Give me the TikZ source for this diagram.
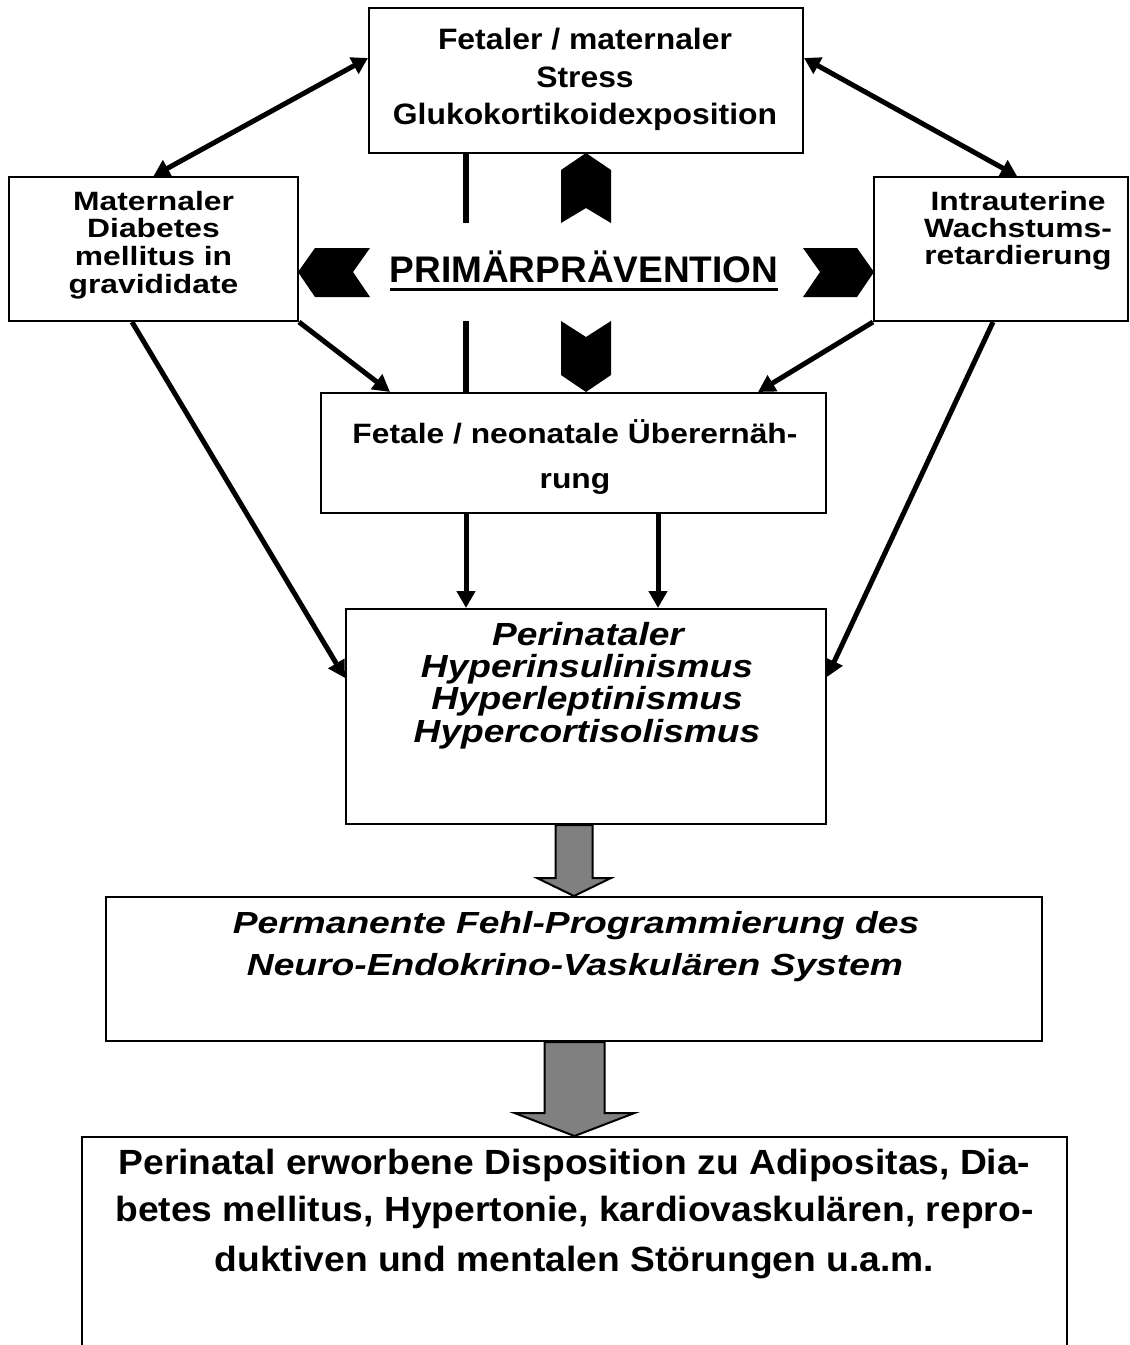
\documentclass[tikz,border=0pt]{standalone}
\usepackage{fontspec}
\setmainfont{Liberation Sans}
\newfontfamily\fTop[FakeStretch=1.08]{Liberation Sans}
\newfontfamily\fSide[FakeStretch=1.2]{Liberation Sans}
\newfontfamily\fMid[FakeStretch=1.135]{Liberation Sans}
\newfontfamily\fPer[FakeStretch=1.16]{Liberation Sans}
\newfontfamily\fPerm[FakeStretch=1.22]{Liberation Sans}
\newfontfamily\fBot[FakeStretch=1.063]{Liberation Sans}
\usetikzlibrary{arrows.meta,calc}
\definecolor{arrowgray}{RGB}{128,128,128}
\begin{document}
\begin{tikzpicture}[x=1pt,y=-1pt,
  box/.style={draw,line width=2pt,inner sep=0pt},
  txt/.style={inner sep=0pt,anchor=base},
  conn/.style={line width=5pt,-{Triangle[length=17pt,width=18pt]}},
  dbl/.style={line width=5pt,{Triangle[length=16pt,width=18pt]}-{Triangle[length=16pt,width=18pt]}},
  plainline/.style={line width=5.5pt},
  chev/.style={fill=black},
  garrow/.style={fill=arrowgray,draw=black,line width=2pt,line join=miter},
  ftop/.style={font=\fTop\bfseries\fontsize{29.5}{35}\selectfont},
  fside/.style={font=\fSide\bfseries\fontsize{26.5}{30}\selectfont},
  fmid/.style={font=\fMid\bfseries\fontsize{28}{33}\selectfont},
  fper/.style={font=\fPer\bfseries\itshape\fontsize{32}{36}\selectfont},
  fperm/.style={font=\fPerm\bfseries\itshape\fontsize{30.5}{36}\selectfont},
  fbot/.style={font=\fBot\bfseries\fontsize{35}{42}\selectfont},
]
\useasboundingbox (0,0) rectangle (1130,1345);
\clip (0,0) rectangle (1130,1345);

% boxes
\node[box,minimum width=434pt,minimum height=145pt] (T) at (586,80.5) {};
\node[box,minimum width=289pt,minimum height=144pt] (L) at (153.5,249) {};
\node[box,minimum width=254pt,minimum height=144pt] (R) at (1001,249) {};
\node[box,minimum width=505pt,minimum height=120pt] (M) at (573.5,453) {};
\node[box,minimum width=480pt,minimum height=215pt] (P) at (586,716.5) {};
\node[box,minimum width=936pt,minimum height=144pt] (Q) at (574,969) {};
\node[box,minimum width=985pt,minimum height=240pt] (B) at (574.5,1257) {};

% texts
\node[txt,ftop] (t1) at (585,49) {Fetaler / maternaler};
\node[txt,ftop] (t2) at (585,87) {Stress};
\node[txt,ftop] (t3) at (585,124.5) {Glukokortikoidexposition};

\node[txt,fside] (l1) at (153.5,210) {Maternaler};
\node[txt,fside] (l2) at (153.5,237.5) {Diabetes};
\node[txt,fside] (l3) at (153.5,265) {mellitus in};
\node[txt,fside] (l4) at (153.5,293) {gravididate};

\node[txt,fside] (r1) at (1018,210) {Intrauterine};
\node[txt,fside] (r2) at (1018,237.5) {Wachstums-};
\node[txt,fside] (r3) at (1018,264) {retardierung};

\node[txt,font=\bfseries\fontsize{37}{42}\selectfont] (pp) at (584,282) {PRIMÄRPRÄVENTION};
\draw[line width=3pt] ([yshift=-7pt]pp.base west) -- ([yshift=-7pt]pp.base east);

\node[txt,fmid] (m1) at (575,443) {Fetale / neonatale Überernäh-};
\node[txt,fmid] (m2) at (575,488) {rung};

\node[txt,fper] (p1) at (588,645) {Perinataler};
\node[txt,fper] (p2) at (587,677) {Hyperinsulinismus};
\node[txt,fper] (p3) at (587,709.5) {Hyperleptinismus};
\node[txt,fper] (p4) at (587,742) {Hypercortisolismus};

\node[txt,fperm] (q1) at (576,933) {Permanente Fehl-Programmierung des};
\node[txt,fperm] (q2) at (575,975) {Neuro-Endokrino-Vaskulären System};

\node[txt,fbot] (b1) at (574.5,1174) {Perinatal erworbene Disposition zu Adipositas, Dia-};
\node[txt,fbot] (b2) at (574.5,1221) {betes mellitus, Hypertonie, kardiovaskulären, repro-};
\node[txt,fbot] (b3) at (574.5,1271) {duktiven und mentalen Störungen u.a.m.};

% chevrons
\fill[chev] (586,153) -- (611,170) -- (611,223) -- (586,208) -- (561,223) -- (561,170) -- cycle;
\fill[chev] (561,321) -- (586,337) -- (611,321) -- (611,375) -- (586,392) -- (561,375) -- cycle;
\fill[chev] (298,272) -- (315,248) -- (370,248) -- (353,272) -- (370,297) -- (315,297) -- cycle;
\fill[chev] (803,248) -- (820,272) -- (803,297) -- (857,297) -- (874,272) -- (857,248) -- cycle;

% plain vertical lines
\coordinate (va) at (466,223);
\coordinate (vb) at (466,321);
\coordinate (vc) at (658,513);
\draw[plainline] (T.south -| va) -- (va);
\draw[plainline] (vb) -- (vb |- M.north);

% connectors
\draw[dbl] ([yshift=22.5pt]T.west) -- (L.north);
\draw[dbl] ([yshift=22.5pt]T.east) -- ([xshift=16pt]R.north);
\draw[conn] (L.south east) -- ([xshift=-183.5pt]M.north);
\draw[conn] (R.south west) -- ([xshift=184.5pt]M.north);
\draw[conn] (M.south -| va) -- (P.north -| va);
\draw[conn] (M.south -| vc) -- (P.north -| vc);
\draw[conn] ([xshift=-21.5pt]L.south) -- ([yshift=38.5pt]P.west);
\draw[conn] ([xshift=-8pt]R.south) -- ([yshift=39.5pt]P.east);

% grey block arrows
\filldraw[garrow] ($(P.south -| Q.north)+(-18.5,0)$) -- ($(P.south -| Q.north)+(18.5,0)$)
  -- ($(Q.north)+(18.5,-18)$) -- ($(Q.north)+(37,-18)$) -- (Q.north)
  -- ($(Q.north)+(-37,-18)$) -- ($(Q.north)+(-18.5,-18)$) -- cycle;
\filldraw[garrow] ($(Q.south -| B.north)+(-30,0)$) -- ($(Q.south -| B.north)+(30,0)$)
  -- ($(B.north)+(30,-23)$) -- ($(B.north)+(60,-23)$) -- (B.north)
  -- ($(B.north)+(-60,-23)$) -- ($(B.north)+(-30,-23)$) -- cycle;
\end{tikzpicture}
\end{document}
